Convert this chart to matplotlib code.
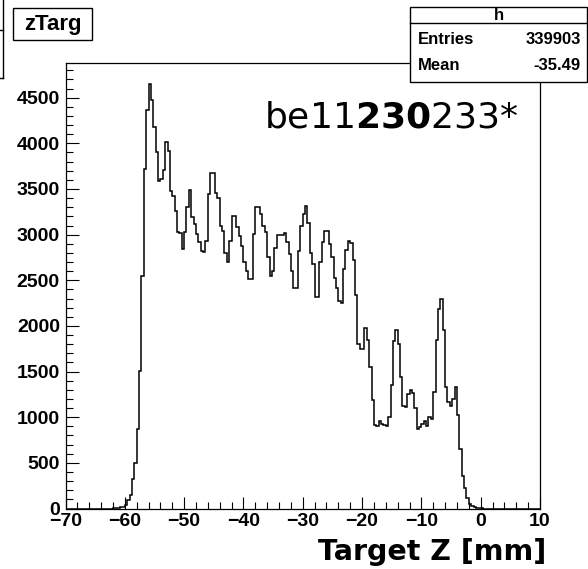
import numpy as np
import matplotlib.pyplot as plt
from matplotlib.patches import Rectangle
from matplotlib.lines import Line2D
from matplotlib.ticker import MultipleLocator

W, H = 588, 569

# histogram: 200 bins of 0.4 mm between -70 and 10 mm
x_lo, x_hi, n_bins = -70.0, 10.0, 200
counts = [0] * 20 + [
    3, 5, 8, 12, 20, 35, 90, 150, 318, 493,
    876, 1504, 2552, 3720, 4367, 4651, 4476, 4177, 3903, 3590,
    3611, 3709, 4020, 3921, 3480, 3428, 3264, 3027, 3020, 2844,
    3027, 3300, 3490, 3191, 3118, 3008, 2917, 2817, 2808, 2935,
    3450, 3673, 3673, 3455, 3400, 3100, 3045, 2799, 2698, 2935,
    3209, 3209, 3081, 2990, 2880, 2698, 2600, 2515, 2515, 3008,
    3305, 3305, 3227, 3100, 3027, 2753, 2552, 2607, 2850, 3001,
    3001, 3001, 3016, 2917, 2790, 2607, 2418, 2418, 2826, 3100,
    3227, 3319, 3125, 2800, 2680, 2320, 2320, 2700, 2917, 3045,
    3045, 2899, 2753, 2525, 2420, 2270, 2250, 2620, 2830, 2930,
    2906, 2723, 2344, 1804, 1749, 1749, 1975, 1850, 1548, 1189,
    919, 908, 956, 927, 919, 908, 1000, 1358, 1840, 1950,
    1804, 1439, 1128, 1110, 1256, 1300, 1263, 1102, 872, 890,
    927, 963, 908, 1000, 982, 1274, 1847, 2188, 2297, 1950,
    1329, 1165, 1128, 1201, 1336, 1019, 654, 361, 226, 120,
    50, 25, 15, 8, 5, 2,
] + [0] * 24

hist_name = "h"
hist_title = "zTarg"
entries = 339903
mean_z = -35.49
run_label = r"be11$\mathbf{230}$233*"
x_title = "Target Z [mm]"


def fx(px):
    return px / W


def fy(py):
    return 1 - py / H


plt.rcParams["mathtext.fontset"] = "dejavusans"
label_font = "Liberation Sans"

fig = plt.figure(figsize=(W / 100, H / 100), dpi=100)
left, right, top, bottom = 65.5, 540.0, 62.7, 508.5
ax = fig.add_axes([fx(left), fy(bottom), (right - left) / W, (bottom - top) / H])

edges = np.linspace(x_lo, x_hi, n_bins + 1)
ax.stairs(counts, edges, color="black", linewidth=1.1)

ax.set_xlim(x_lo, x_hi)
ax.set_ylim(0, 1.05 * max(counts))
ax.xaxis.set_major_locator(MultipleLocator(10))
ax.xaxis.set_minor_locator(MultipleLocator(2))
ax.yaxis.set_major_locator(MultipleLocator(500))
ax.yaxis.set_minor_locator(MultipleLocator(100))
ax.tick_params(which="both", direction="in", top=False, right=False, width=0.8)
ax.tick_params(which="major", length=9)
ax.tick_params(which="minor", length=5)
ax.tick_params(axis="x", pad=3)
ax.tick_params(axis="y", pad=4)
for lab in ax.get_xticklabels() + ax.get_yticklabels():
    lab.set_fontfamily(label_font)
    lab.set_fontweight("bold")
    lab.set_fontsize(14)
for sp in ax.spines.values():
    sp.set_linewidth(0.9)

# axis title below, right aligned
fig.text(fx(546), fy(552), x_title, ha="right", va="center",
         fontsize=20.5, fontweight="bold", family="DejaVu Sans")

# run label inside the frame
fig.text(fx(264), fy(127), run_label, ha="left", va="baseline",
         fontsize=26, family="DejaVu Sans")

# title box
fig.add_artist(Rectangle((fx(13), fy(40)), (92 - 13) / W, (40 - 8.3) / H,
                         transform=fig.transFigure, facecolor="white",
                         edgecolor="black", linewidth=1.0, zorder=5))
fig.text(fx(52.5), fy(24.5), hist_title, ha="center", va="center",
         fontsize=16, fontweight="bold", family=label_font, zorder=6)

# partial box at the left edge
fig.add_artist(Line2D([fx(3), fx(3)], [fy(0), fy(78)], transform=fig.transFigure,
                      color="black", linewidth=1.0))
fig.add_artist(Line2D([fx(0), fx(3)], [fy(30), fy(30)], transform=fig.transFigure,
                      color="black", linewidth=1.0))
fig.add_artist(Line2D([fx(0), fx(3)], [fy(78), fy(78)], transform=fig.transFigure,
                      color="black", linewidth=1.0))

# stats box
bx0, bx1, by0, by1 = 410, 587, 7.3, 81.7
fig.add_artist(Rectangle((fx(bx0), fy(by1)), (bx1 - bx0) / W, (by1 - by0) / H,
                         transform=fig.transFigure, facecolor="white",
                         edgecolor="black", linewidth=1.0, zorder=5))
fig.add_artist(Line2D([fx(bx0), fx(bx1)], [fy(23.3), fy(23.3)],
                      transform=fig.transFigure, color="black", linewidth=1.0, zorder=6))
stat_kw = dict(fontsize=12, fontweight="bold", family=label_font, zorder=7, va="center")
fig.text(fx((bx0 + bx1) / 2), fy(15.5), hist_name, ha="center", **stat_kw)
fig.text(fx(418), fy(40), "Entries", ha="left", **stat_kw)
fig.text(fx(581), fy(40), f"{entries}", ha="right", **stat_kw)
fig.text(fx(418), fy(65), "Mean", ha="left", **stat_kw)
fig.text(fx(581), fy(65), f"{mean_z:.2f}", ha="right", **stat_kw)

fig.savefig("out.png", dpi=100)
